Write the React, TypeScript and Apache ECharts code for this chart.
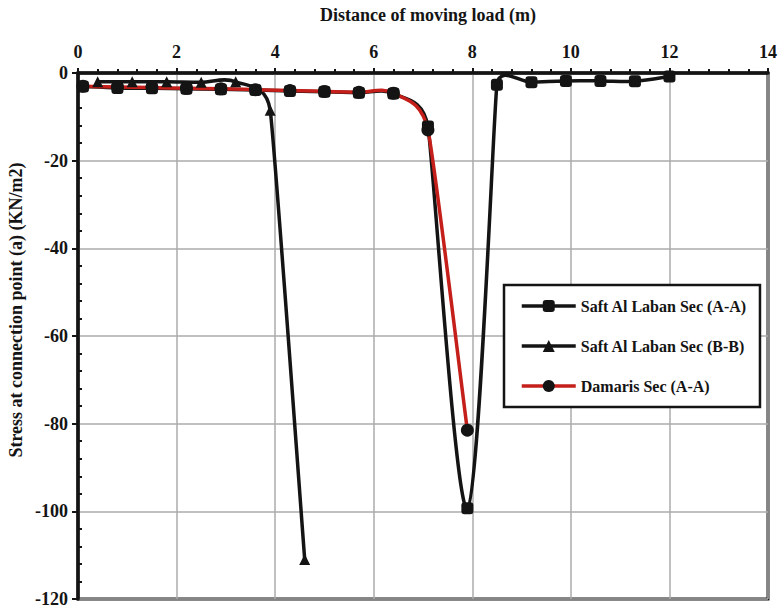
import React, { useEffect, useRef } from "react";
import * as echarts from "echarts";

// Distances (m) and stresses (KN/m2)
const xAA = [0.1, 0.8, 1.5, 2.2, 2.9, 3.6, 4.3, 5.0, 5.7, 6.4, 7.1, 7.9, 8.5, 9.2, 9.9, 10.6, 11.3, 12.0];
const yAA = [-3.1, -3.4, -3.5, -3.6, -3.7, -3.9, -4.1, -4.3, -4.5, -4.7, -12.2, -99.3, -2.7, -2.1, -1.8, -1.8, -1.9, -0.8];

const xBB = [0.4, 1.1, 1.8, 2.5, 3.2, 3.9, 4.6];
const yBB = [-2.0, -2.0, -2.0, -2.1, -2.0, -8.5, -111.0];

const xDM = [0.1, 0.8, 1.5, 2.2, 2.9, 3.6, 4.3, 5.0, 5.7, 6.4, 7.1, 7.9];
const yDM = [-3.0, -3.2, -3.3, -3.5, -3.6, -3.8, -4.0, -4.2, -4.4, -4.6, -13.0, -81.5];

const seriesNames = ["Saft Al Laban Sec (A-A)", "Saft Al Laban Sec (B-B)", "Damaris Sec (A-A)"];
const xTitle = "Distance of moving load (m)";
const yTitle = "Stress at connection point (a) (KN/m2)";

const FONT = "'Liberation Serif', 'Times New Roman', serif";
const BLACK = "#141414";
const RED = "#c41f1a";
const LINE_W = 3.5;

function pairs(xs: number[], ys: number[]) {
  return xs.map((x, i) => [x, ys[i]]);
}

// Excel-like smoothed curve (Bezier with limited tangents)
function smoothPath(p: number[][], k = 0.6) {
  const n = p.length;
  const T = p.map((pt, i) => {
    const prev = p[Math.max(0, i - 1)];
    const next = p[Math.min(n - 1, i + 1)];
    let tx = (next[0] - prev[0]) / 6;
    let ty = (next[1] - prev[1]) / 6;
    const dPrev = i > 0 ? Math.hypot(pt[0] - p[i - 1][0], pt[1] - p[i - 1][1]) : Infinity;
    const dNext = i < n - 1 ? Math.hypot(p[i + 1][0] - pt[0], p[i + 1][1] - pt[1]) : Infinity;
    const lim = k * Math.min(dPrev, dNext);
    const len = Math.hypot(tx, ty);
    if (len > lim && len > 0) {
      tx = (tx * lim) / len;
      ty = (ty * lim) / len;
    }
    return [tx, ty];
  });
  let d = `M${p[0][0]},${p[0][1]}`;
  for (let i = 0; i < n - 1; i++) {
    const c1 = [p[i][0] + T[i][0], p[i][1] + T[i][1]];
    const c2 = [p[i + 1][0] - T[i + 1][0], p[i + 1][1] - T[i + 1][1]];
    d += ` C${c1[0]},${c1[1]} ${c2[0]},${c2[1]} ${p[i + 1][0]},${p[i + 1][1]}`;
  }
  return d;
}

function curveSeries(xs: number[], ys: number[], color: string, z: number) {
  return {
    type: "custom",
    name: "curve" + z,
    coordinateSystem: "cartesian2d",
    silent: true,
    z,
    data: [[xs[0], ys[0]]],
    renderItem: (_params: any, api: any) => {
      const pts = xs.map((x, i) => api.coord([x, ys[i]]));
      return {
        type: "path",
        shape: { pathData: smoothPath(pts) },
        style: { stroke: color, lineWidth: LINE_W, fill: "none", lineJoin: "round", lineCap: "round" },
      };
    },
  };
}

function markerSeries(name: string, xs: number[], ys: number[], symbol: string, size: number, lineColor: string) {
  return {
    type: "line",
    name,
    data: pairs(xs, ys),
    symbol,
    symbolSize: size,
    showSymbol: true,
    z: 5,
    itemStyle: { color: BLACK },
    lineStyle: { color: lineColor, width: 0 },
  };
}

export default function App() {
  const ref = useRef<HTMLDivElement>(null);
  useEffect(() => {
    document.body.style.margin = "0";
    if (!ref.current) return;
    const chart = echarts.init(ref.current, null, { renderer: "svg" });
    const labelStyle = { fontFamily: FONT, fontWeight: "bold", fontSize: 18, color: BLACK };
    chart.setOption({
      animation: false,
      backgroundColor: "#ffffff",
      grid: {
        left: 78,
        right: 10,
        top: 73,
        bottom: 8,
        show: true,
        borderColor: BLACK,
        borderWidth: 3,
      },
      xAxis: {
        type: "value",
        position: "top",
        min: 0,
        max: 14,
        interval: 2,
        axisLine: { lineStyle: { color: BLACK, width: 3.5 } },
        axisTick: { length: 5, lineStyle: { color: BLACK, width: 2 } },
        minorTick: { show: true, splitNumber: 5, length: 4, lineStyle: { color: BLACK, width: 2 } },
        axisLabel: { ...labelStyle, margin: 12 },
        splitLine: { show: true, lineStyle: { color: "#ababab", width: 1.5 } },
      },
      yAxis: [
        {
          type: "value",
          position: "left",
          min: -120,
          max: 0,
          interval: 20,
          axisLine: { lineStyle: { color: BLACK, width: 3.5 } },
          axisTick: { length: 6, lineStyle: { color: BLACK, width: 2 } },
          axisLabel: { ...labelStyle, margin: 10 },
          splitLine: { show: true, lineStyle: { color: "#ababab", width: 1.5 } },
        },
        {
          type: "value",
          position: "left",
          min: -120,
          max: 0,
          interval: 20,
          axisLine: { show: false },
          axisTick: { show: false, inside: true },
          axisLabel: { show: false },
          splitLine: { show: false },
          minorTick: { show: true, splitNumber: 5, length: 4, lineStyle: { color: BLACK, width: 2 } },
        },
      ],
      legend: {
        data: seriesNames,
        orient: "vertical",
        left: 504,
        top: 285,
        itemWidth: 54,
        itemHeight: 15,
        itemGap: 24,
        padding: [13, 13, 13, 16],
        borderColor: BLACK,
        borderWidth: 2.5,
        backgroundColor: "#ffffff",
        lineStyle: { width: 3.5, opacity: 1 },
        itemStyle: { opacity: 1 },
        textStyle: { fontFamily: FONT, fontWeight: "bold", fontSize: 16, color: BLACK, lineHeight: 16 },
      },
      graphic: [
        {
          type: "text",
          x: 428,
          y: 15,
          style: {
            text: xTitle,
            fontFamily: FONT,
            fontWeight: "bold",
            fontSize: 18,
            fill: BLACK,
            textAlign: "center",
            textVerticalAlign: "middle",
          },
        },
        {
          type: "text",
          x: 16,
          y: 310,
          rotation: Math.PI / 2,
          style: {
            text: yTitle,
            fontFamily: FONT,
            fontWeight: "bold",
            fontSize: 18,
            fill: BLACK,
            textAlign: "center",
            textVerticalAlign: "middle",
          },
        },
      ],
      series: [
        curveSeries(xAA, yAA, BLACK, 2),
        curveSeries(xBB, yBB, BLACK, 3),
        curveSeries(xDM, yDM, RED, 4),
        markerSeries(seriesNames[0], xAA, yAA, "roundRect", 12, BLACK),
        markerSeries(seriesNames[1], xBB, yBB, "triangle", 11, BLACK),
        markerSeries(seriesNames[2], xDM, yDM, "circle", 13, RED),
      ],
    });
    return () => chart.dispose();
  }, []);
  return (
    <div
      ref={ref}
      style={{ width: 780, height: 608, position: "fixed", left: 0, top: 0, background: "#fff" }}
    />
  );
}
